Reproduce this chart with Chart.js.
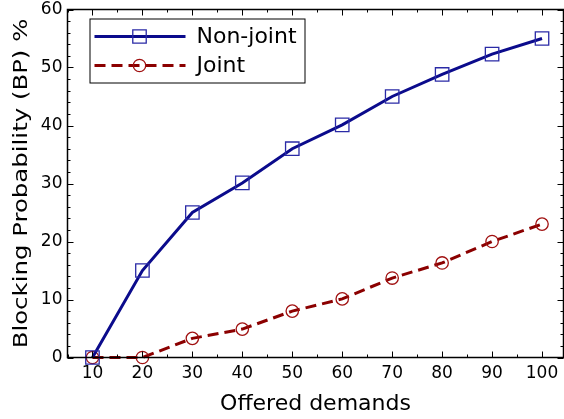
<!DOCTYPE html>
<html>
<head>
<meta charset="utf-8">
<script src="https://cdn.jsdelivr.net/npm/chart.js@4/dist/chart.umd.min.js"></script>
<style>
html,body{margin:0;padding:0;background:#fff;overflow:hidden}
canvas{display:block}
</style>
</head>
<body>
<canvas id="bpChart" width="564" height="419"></canvas>
<script>
// values
const demands = [10, 20, 30, 40, 50, 60, 70, 80, 90, 100];
const nonJoint = [0, 15, 25, 30.1, 36, 40.1, 45, 48.8, 52.3, 55];
const joint = [0, 0, 3.3, 4.9, 8, 10.1, 13.7, 16.3, 20, 23];
const xTicks = [10, 20, 30, 40, 50, 60, 70, 80, 90, 100];
const yTicks = [0, 10, 20, 30, 40, 50, 60];
const yTitle = 'Blocking Probability (BP) %';

const NAVY = '#0b0b8c';
const DARKRED = '#8b0000';
const FONT = "'DejaVu Sans', sans-serif";

function toPts(xs, ys){ return xs.map((x, i) => ({ x: x, y: ys[i] })); }

// inward ticks on all four sides plus the frame, like the matplotlib box
const frameTicks = {
  id: 'frameTicks',
  afterDatasetsDraw(chart){
    const { ctx, chartArea: a, scales: { x, y } } = chart;
    ctx.save();
    ctx.strokeStyle = '#000';
    ctx.lineWidth = 1;
    const tick = (x1, y1, x2, y2) => { ctx.beginPath(); ctx.moveTo(x1, y1); ctx.lineTo(x2, y2); ctx.stroke(); };
    for (let v = 5; v <= x.max; v += 5) {
      const px = Math.round(x.getPixelForValue(v)) + 0.5;
      const len = v % 10 === 0 ? 6 : 3;
      tick(px, a.bottom, px, a.bottom - len);
      tick(px, a.top, px, a.top + len);
    }
    for (let v = 0; v <= y.max; v += 2) {
      const py = Math.round(y.getPixelForValue(v)) + 0.5;
      const len = v % 10 === 0 ? 6 : 3;
      tick(a.left, py, a.left + len, py);
      tick(a.right, py, a.right - len, py);
    }
    ctx.lineWidth = 1.5;
    ctx.strokeRect(a.left, a.top, a.right - a.left, a.bottom - a.top);
    ctx.restore();
  }
};

// y title: the source figure is stretched vertically, so the rotated text is longer
const stretchedYTitle = {
  id: 'stretchedYTitle',
  afterDraw(chart){
    const { ctx, chartArea: a } = chart;
    ctx.save();
    ctx.translate(22, (a.top + a.bottom) / 2);
    ctx.rotate(-Math.PI / 2);
    ctx.scale(1.22, 1);
    ctx.font = '20px ' + FONT;
    ctx.fillStyle = '#000';
    ctx.textAlign = 'center';
    ctx.textBaseline = 'middle';
    ctx.fillText(yTitle, 0, 0);
    ctx.restore();
  }
};

// boxed legend drawn from the dataset styles
const boxLegend = {
  id: 'boxLegend',
  afterDraw(chart){
    const { ctx, chartArea: a } = chart;
    const bx = a.left + 22, by = a.top + 9, bw = 215, bh = 64;
    ctx.save();
    ctx.fillStyle = '#fff';
    ctx.fillRect(bx, by, bw, bh);
    ctx.strokeStyle = '#000';
    ctx.lineWidth = 1;
    ctx.strokeRect(bx + 0.5, by + 0.5, bw, bh);
    chart.data.datasets.forEach((ds, i) => {
      const ly = by + 18 + i * 29;
      ctx.strokeStyle = ds.borderColor;
      ctx.lineWidth = ds.borderWidth;
      ctx.setLineDash(ds.borderDash || []);
      ctx.beginPath();
      ctx.moveTo(bx + 5, ly);
      ctx.lineTo(bx + 96, ly);
      ctx.stroke();
      ctx.setLineDash([]);
      ctx.strokeStyle = ds.pointBorderColor;
      ctx.lineWidth = ds.pointBorderWidth;
      ctx.beginPath();
      if (ds.pointStyle === 'rect') {
        const s = ds.pointRadius * Math.SQRT1_2;
        ctx.rect(bx + 50 - s, ly - s, 2 * s, 2 * s);
      } else {
        ctx.arc(bx + 50, ly, ds.pointRadius, 0, Math.PI * 2);
      }
      ctx.stroke();
      ctx.fillStyle = '#000';
      ctx.font = '22px ' + FONT;
      ctx.textBaseline = 'middle';
      ctx.fillText(ds.label, bx + 107, ly + 1);
    });
    ctx.restore();
  }
};

new Chart(document.getElementById('bpChart'), {
  type: 'line',
  data: {
    datasets: [
      { label: 'Non-joint', data: toPts(demands, nonJoint), borderColor: NAVY, borderWidth: 3,
        pointStyle: 'rect', pointRadius: 9.5, pointBorderColor: '#2a2aa6', pointBorderWidth: 1.3,
        pointBackgroundColor: 'rgba(0,0,0,0)', tension: 0 },
      { label: 'Joint', data: toPts(demands, joint), borderColor: DARKRED, borderWidth: 3, borderDash: [11, 6],
        pointStyle: 'circle', pointRadius: 6.2, pointBorderColor: '#a01010', pointBorderWidth: 1.3,
        pointBackgroundColor: 'rgba(0,0,0,0)', tension: 0 }
    ]
  },
  options: {
    responsive: false,
    animation: false,
    clip: false,
    layout: { autoPadding: false, padding: { top: 9.5, right: 0.5, left: 0, bottom: 0 } },
    plugins: { legend: { display: false }, tooltip: { enabled: false } },
    scales: {
      x: {
        type: 'linear', min: 5, max: 104.3,
        afterBuildTicks: s => { s.ticks = xTicks.map(v => ({ value: v })); },
        afterFit: s => { s.height = 61.5; s.paddingLeft = 0; s.paddingRight = 0; },
        grid: { display: false, drawTicks: false },
        border: { display: false },
        ticks: { color: '#000', font: { family: FONT, size: 17 }, padding: 6, maxRotation: 0 },
        title: { display: true, text: 'Offered demands', color: '#000', font: { family: FONT, size: 22 }, padding: { top: 0, bottom: 2 } }
      },
      y: {
        min: 0, max: 60,
        afterBuildTicks: s => { s.ticks = yTicks.map(v => ({ value: v })); },
        afterFit: s => { s.width = 67.5; s.paddingTop = 0; s.paddingBottom = 0; },
        grid: { display: false, drawTicks: false },
        border: { display: false },
        ticks: { color: '#000', font: { family: FONT, size: 17 }, padding: 5 },
        title: { display: false }
      }
    }
  },
  plugins: [frameTicks, stretchedYTitle, boxLegend]
});
</script>
</body>
</html>
